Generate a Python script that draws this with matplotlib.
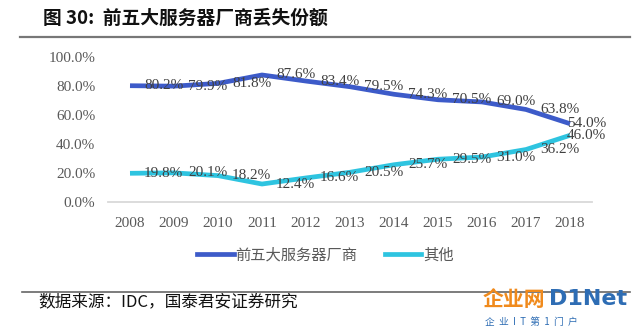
import matplotlib
matplotlib.use("Agg")
import matplotlib.pyplot as plt
from matplotlib.lines import Line2D

years = ["2008", "2009", "2010", "2011", "2012", "2013", "2014", "2015", "2016", "2017", "2018"]
top5 = [80.2, 79.9, 81.8, 87.6, 83.4, 79.5, 74.3, 70.5, 69.0, 63.8, 54.0]
others = [19.8, 20.1, 18.2, 12.4, 16.6, 20.5, 25.7, 29.5, 31.0, 36.2, 46.0]
yticks = [0, 20, 40, 60, 80, 100]
series_names = ["前五大服务器厂商", "其他"]
title = "图 30:  前五大服务器厂商丢失份额"
source = "数据来源：IDC，国泰君安证券研究"

BLUE = "#3D5BC9"
CYAN = "#2EC4E0"
CJK = ["Noto Sans CJK SC", "DejaVu Sans"]
SERIF = ["Liberation Serif", "Noto Sans CJK SC"]

W, H = 640, 332
fig = plt.figure(figsize=(W / 100, H / 100), dpi=100)
fig.patch.set_facecolor("white")

ax = fig.add_axes([108 / W, (H - 202) / H, 484 / W, 145 / H])
x = list(range(len(years)))
ax.plot(x, top5, color=BLUE, lw=3.4, solid_capstyle="butt", clip_on=False, zorder=3)
ax.plot(x, others, color=CYAN, lw=3.4, solid_capstyle="butt", clip_on=False, zorder=3)

ax.set_xlim(-0.5, len(years) - 0.5)
ax.set_ylim(0, 100)
ax.set_yticks(yticks)
ax.set_yticklabels([f"{v:.1f}%" for v in yticks], fontfamily=SERIF, fontsize=11, color="#595959")
ax.set_xticks(x)
ax.set_xticklabels(years, fontfamily=SERIF, fontsize=11, color="#595959")
ax.tick_params(axis="both", length=0)
ax.tick_params(axis="y", pad=9)
ax.tick_params(axis="x", pad=11)
for s in ["top", "right", "left"]:
    ax.spines[s].set_visible(False)
ax.spines["bottom"].set_color("#D9D9D9")
ax.spines["bottom"].set_linewidth(1.3)

for i, (a, b) in enumerate(zip(top5, others)):
    dx = 10 if i < len(years) - 1 else -2
    for v in (a, b):
        ax.annotate(f"{v:.1f}%", (i, v), xytext=(dx, 0), textcoords="offset points",
                    ha="left", va="center", fontfamily=SERIF, fontsize=11,
                    color="#404040", zorder=4)

# legend
handles = [Line2D([], [], color=BLUE, lw=3.4), Line2D([], [], color=CYAN, lw=3.4)]
leg = fig.legend(handles, series_names, loc="center", bbox_to_anchor=(0.508, (H - 255) / H),
                 ncol=2, frameon=False, prop={"family": CJK, "size": 11},
                 handlelength=2.4, handletextpad=0.1, columnspacing=1.8)
for t in leg.get_texts():
    t.set_color("#595959")

# title and rules
fig.text(43 / W, (H - 18) / H, title, fontfamily=CJK, fontsize=13.5, fontweight="bold",
         va="center", ha="left", color="#111111")
fig.add_artist(Line2D([20 / W, 630 / W], [(H - 37) / H] * 2, color="#777777", lw=1.6))
fig.add_artist(Line2D([22 / W, 630 / W], [(H - 292) / H] * 2, color="#666666", lw=1.2))
fig.text(38 / W, (H - 302) / H, source, fontfamily=CJK, fontsize=12,
         va="center", ha="left", color="#111111")

# watermark
fig.text(483 / W, (H - 299) / H, "企业网", fontfamily=CJK, fontsize=15, fontweight="bold",
         color="#F08A1C", va="center", ha="left")
fig.text(549 / W, (H - 299) / H, "D1Net", fontfamily=["DejaVu Sans"], fontsize=16, fontweight="bold",
         color="#2E6DB4", va="center", ha="left")
fig.text(485 / W, (H - 322) / H, "企  业  I  T  第  1  门  户", fontfamily=CJK, fontsize=7,
         color="#2E6DB4", va="center", ha="left")

fig.savefig("out.png", dpi=100, facecolor="white")
